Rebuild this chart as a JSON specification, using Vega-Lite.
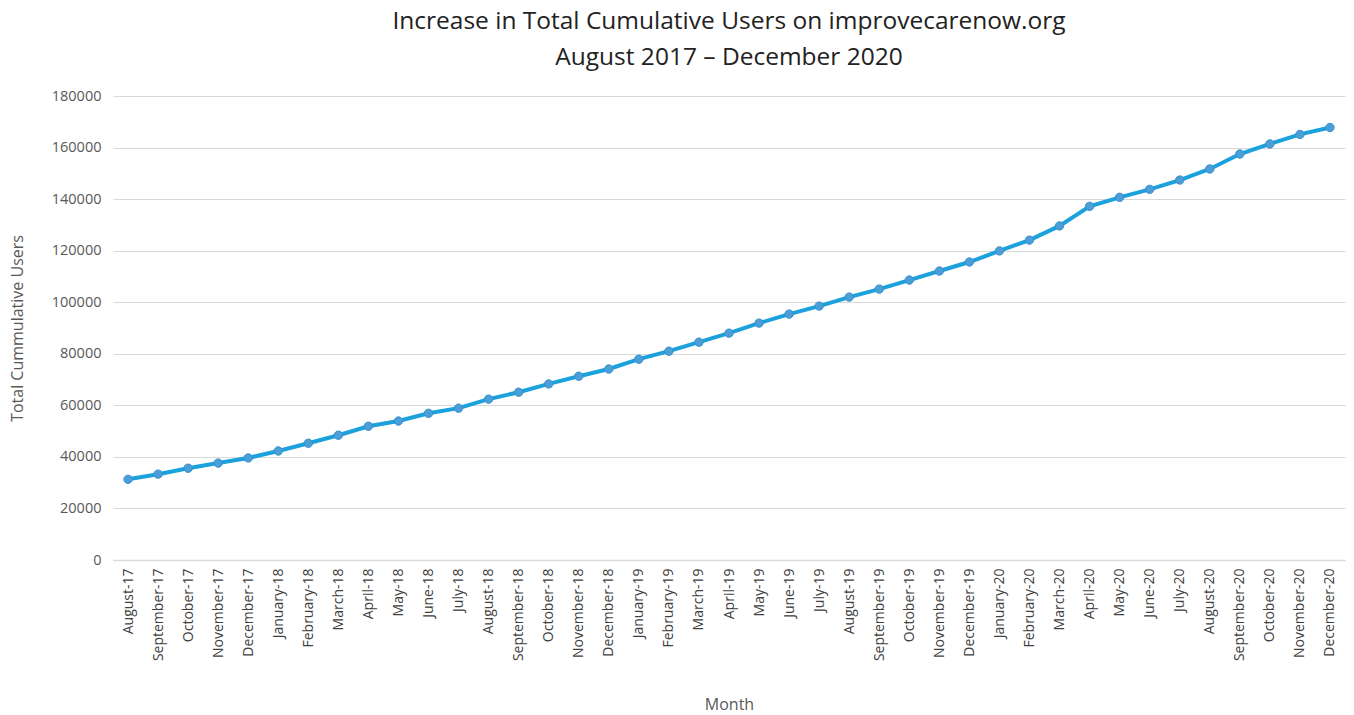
{
  "$schema": "https://vega.github.io/schema/vega-lite/v6.json",
  "width": 1232,
  "height": 464,
  "autosize": {"type": "none"},
  "padding": {"left": 113, "top": 96, "right": 9, "bottom": 155},
  "background": "white",
  "config": {
    "font": "Open Sans",
    "view": {"stroke": null}
  },
  "title": {
    "text": ["Increase in Total Cumulative Users on improvecarenow.org", "August 2017 – December 2020"],
    "fontSize": 24.5,
    "fontWeight": "normal",
    "color": "#222222",
    "lineHeight": 36,
    "anchor": "middle",
    "offset": 18
  },
  "data": {
    "values": [
      {"month": "August-17", "users": 31300},
      {"month": "September-17", "users": 33300},
      {"month": "October-17", "users": 35600},
      {"month": "November-17", "users": 37600},
      {"month": "December-17", "users": 39600},
      {"month": "January-18", "users": 42300},
      {"month": "February-18", "users": 45300},
      {"month": "March-18", "users": 48400},
      {"month": "April-18", "users": 51900},
      {"month": "May-18", "users": 53900},
      {"month": "June-18", "users": 56900},
      {"month": "July-18", "users": 58900},
      {"month": "August-18", "users": 62400},
      {"month": "September-18", "users": 65100},
      {"month": "October-18", "users": 68300},
      {"month": "November-18", "users": 71300},
      {"month": "December-18", "users": 74100},
      {"month": "January-19", "users": 77900},
      {"month": "February-19", "users": 81000},
      {"month": "March-19", "users": 84500},
      {"month": "April-19", "users": 88000},
      {"month": "May-19", "users": 91900},
      {"month": "June-19", "users": 95400},
      {"month": "July-19", "users": 98500},
      {"month": "August-19", "users": 102000},
      {"month": "September-19", "users": 105100},
      {"month": "October-19", "users": 108600},
      {"month": "November-19", "users": 112100},
      {"month": "December-19", "users": 115600},
      {"month": "January-20", "users": 119900},
      {"month": "February-20", "users": 124100},
      {"month": "March-20", "users": 129600},
      {"month": "April-20", "users": 137200},
      {"month": "May-20", "users": 140700},
      {"month": "June-20", "users": 143800},
      {"month": "July-20", "users": 147400},
      {"month": "August-20", "users": 151700},
      {"month": "September-20", "users": 157500},
      {"month": "October-20", "users": 161400},
      {"month": "November-20", "users": 165100},
      {"month": "December-20", "users": 167800}
    ]
  },
  "encoding": {
    "x": {
      "field": "month",
      "type": "ordinal",
      "sort": null,
      "scale": {"type": "point", "padding": 0.5},
      "axis": {
        "title": "Month",
        "titleFont": "Open Sans",
        "titleFontSize": 16,
        "titleFontWeight": "normal",
        "titleColor": "#595959",
        "titlePadding": 36,
        "labelAngle": -90,
        "labelFontSize": 14,
        "labelColor": "#404040",
        "labelPadding": 8,
        "ticks": false,
        "domainColor": "#d9d9d9",
        "domainWidth": 1.5,
        "grid": false
      }
    },
    "y": {
      "field": "users",
      "type": "quantitative",
      "scale": {"domain": [0, 180000], "nice": false},
      "axis": {
        "title": "Total Cummulative  Users",
        "titleFont": "Open Sans",
        "titleFontSize": 16,
        "titleFontWeight": "normal",
        "titleColor": "#595959",
        "titlePadding": 26,
        "values": [0, 20000, 40000, 60000, 80000, 100000, 120000, 140000, 160000, 180000],
        "format": "d",
        "labelFontSize": 14.5,
        "labelColor": "#595959",
        "labelPadding": 12,
        "ticks": false,
        "domain": false,
        "gridColor": "#d9d9d9",
        "gridWidth": 1.2
      }
    }
  },
  "layer": [
    {
      "mark": {"type": "line", "color": "#1ba1dc", "strokeWidth": 4}
    },
    {
      "mark": {"type": "point", "filled": true, "size": 70, "color": "#4a9fd8", "stroke": "#3a8fcf", "strokeWidth": 1, "opacity": 1}
    }
  ]
}
